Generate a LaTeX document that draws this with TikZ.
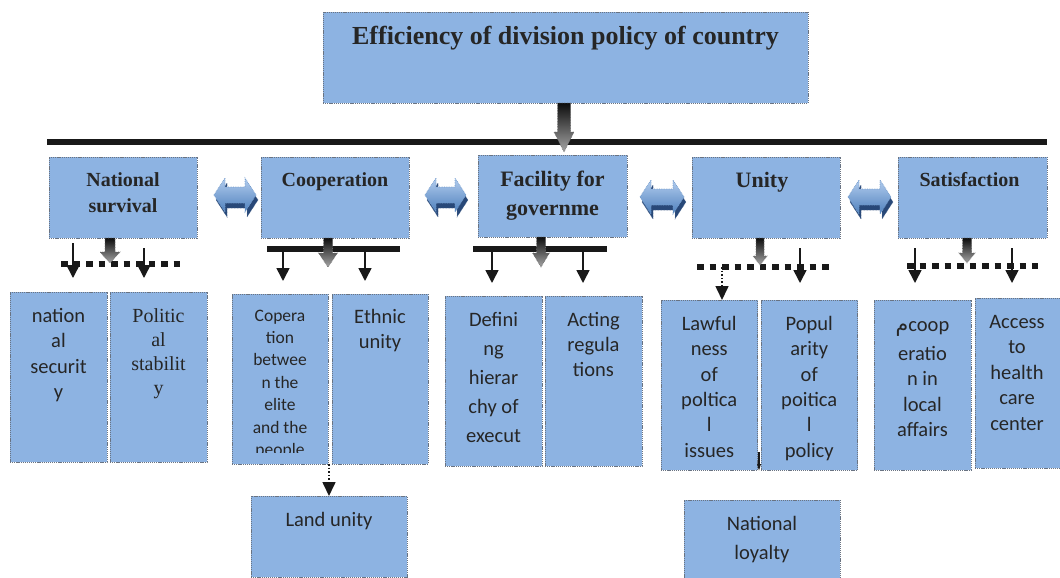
\documentclass[tikz,border=0pt]{standalone}
\usepackage{fontspec}
\setmainfont{Liberation Serif}
\newfontfamily\sansf{Carlito}
\newfontfamily\arabicfont[Script=Arabic]{DejaVu Sans}
\usetikzlibrary{arrows.meta,calc}
\definecolor{boxfill}{RGB}{141,179,226}
\definecolor{boxline}{RGB}{105,115,130}
\definecolor{txt}{RGB}{38,38,38}
\definecolor{arrlight}{RGB}{178,204,238}
\definecolor{arrmid}{RGB}{79,129,189}
\definecolor{arrdark}{RGB}{40,72,120}
\tikzset{
  bx/.style={draw=boxline, fill=boxfill, line width=0.6pt, dash pattern=on 1.2pt off 0.9pt, inner sep=0pt, outer sep=0pt, anchor=north west},
  hd/.style={font=\bfseries\fontsize{20}{26}\selectfont, text=txt, align=center, anchor=base, inner sep=0pt},
  lt/.style={font=\sansf\fontsize{20.5}{25.5}\selectfont, text=txt, align=center, anchor=base, inner sep=0pt},
  bar/.style={line width=6pt, black!90},
  dotbar/.style={line width=5.5pt, black!90, dash pattern=on 6.5pt off 6pt},
  thinarrow/.style={line width=1.6pt, black!90, -{Triangle[width=13pt,length=13pt]}},
  dotarrow/.style={line width=1.6pt, black!90, dotted, -{Triangle[width=13pt,length=14pt]}},
  grayarrow/.style={top color=black!95, bottom color=black!35, draw=black!60, densely dotted, line width=0.6pt},
  bluefront/.style={top color=arrlight, bottom color=arrmid, draw=arrmid!80, densely dotted, line width=0.7pt},
  blueback/.style={fill=arrdark, draw=arrdark!80, densely dotted, line width=0.5pt},
}
% #1 x, #2 top y, #3 head start y, #4 tip y, #5 half shaft, #6 half head
\newcommand\grayarr[6]{\shadedraw[grayarrow] (#1-#5,#2) -- (#1+#5,#2) -- (#1+#5,#3) -- (#1+#6,#3) -- (#1,#4) -- (#1-#6,#3) -- (#1-#5,#3) -- cycle;}
% #1 left x, #2 right x, #3 mid y
\newcommand\dblarr[3]{%
  \filldraw[blueback] (#1+2,#3+5) -- (#1+13,#3-12) -- (#1+13,#3-3) -- (#2-9,#3-3) -- (#2-9,#3-12) -- (#2+2,#3+5) -- (#2-9,#3+22) -- (#2-9,#3+13) -- (#1+13,#3+13) -- (#1+13,#3+22) -- cycle;
  \shadedraw[bluefront] (#1,#3) -- (#1+11,#3-17) -- (#1+11,#3-8) -- (#2-11,#3-8) -- (#2-11,#3-17) -- (#2,#3) -- (#2-11,#3+17) -- (#2-11,#3+8) -- (#1+11,#3+8) -- (#1+11,#3+17) -- cycle;}
\begin{document}
\begin{tikzpicture}[x=1pt,y=-1pt]
\useasboundingbox (0,0) rectangle (1060,578);

% top box
\node[bx, minimum width=485pt, minimum height=91pt] (top) at (323,12) {};
\node[hd, font=\bfseries\fontsize{26}{30}\selectfont] (toptxt) at ([yshift=-33pt]top.north) {Efficiency of division policy of country};

% main bar
\coordinate (mL) at (47,142);
\coordinate (mR) at (1047,142);
\draw[bar] (mL) -- (mR);
\grayarr{564}{103}{132}{152}{6.5}{10}

% level 2 boxes
\node[bx, minimum width=148pt, minimum height=81pt] (ns) at (49,157) {};
\node[bx, minimum width=148pt, minimum height=81pt] (co) at (261,157) {};
\node[bx, minimum width=149pt, minimum height=82pt] (fa) at (478,155) {};
\node[bx, minimum width=148pt, minimum height=81pt] (un) at (692,157) {};
\node[bx, minimum width=149pt, minimum height=81pt] (sa) at (898,157) {};

% (base anchor = baseline of last line)
\node[hd] (nst) at ([yshift=-55pt]ns.north) {National\\survival};
\node[hd] (cot) at ([yshift=-29pt]co.north) {Cooperation};
\node[hd, font=\bfseries\fontsize{22}{29}\selectfont] (fat) at ([yshift=-60pt]fa.north) {Facility for\\governme};
\node[hd, font=\bfseries\fontsize{22}{29}\selectfont] (unt) at ([xshift=-4pt,yshift=-30pt]un.north) {Unity};
\node[hd] (sat) at ([xshift=-3pt,yshift=-29pt]sa.north) {Satisfaction};

% double arrows
\dblarr{214}{256}{195}
\dblarr{425}{466}{195}
\dblarr{640}{684}{197}
\dblarr{848}{891}{197}

% level 3 boxes
\node[bx, minimum width=97pt, minimum height=170pt] (nsec) at (10,292) {};
\node[bx, minimum width=97pt, minimum height=170pt] (pst) at (110,292) {};
\node[bx, minimum width=96pt, minimum height=170pt] (cbe) at (232,294) {};
\node[bx, minimum width=96pt, minimum height=170pt] (eth) at (332,294) {};
\node[bx, minimum width=156pt, minimum height=81pt] (lu) at (251,496) {};
\node[bx, minimum width=97pt, minimum height=170pt] (def) at (445,296) {};
\node[bx, minimum width=97pt, minimum height=170pt] (act) at (545,296) {};
\node[bx, minimum width=96.5pt, minimum height=170pt] (law) at (661,300) {};
\node[bx, minimum width=96.5pt, minimum height=170pt] (pop) at (761,300) {};
\node[bx, minimum width=97pt, minimum height=170pt] (coo) at (874,300) {};
\node[bx, minimum width=90pt, minimum height=170pt] (acc) at (975,298) {};
\node[bx, minimum width=156pt, minimum height=82pt] (nl) at (684,500) {};

% level 3 texts
\node[lt] (nsect) at ([yshift=-106.5pt]nsec.north) {nation\\al\\securit\\y};
\node[lt, font=\fontsize{20}{24}\selectfont] (pstt) at ([yshift=-102pt]pst.north) {Politic\\al\\stabilit\\y};
\begin{scope}
  \clip (cbe.north west) rectangle ([yshift=12pt]cbe.south east);
  \node[lt, font=\sansf\fontsize{17.5}{22.4}\selectfont] (cbet) at ([yshift=-161.4pt]cbe.north) {Copera\\tion\\betwee\\n the\\elite\\and the\\people};
\end{scope}
\node[lt, font=\sansf\fontsize{20.5}{25.7}\selectfont] (etht) at ([yshift=-54.7pt]eth.north) {Ethnic\\unity};
\node[lt] (lut) at ([yshift=-30pt]lu.north) {Land unity};
\node[lt, font=\sansf\fontsize{20.5}{29}\selectfont] (deft) at ([yshift=-146.5pt]def.north) {Defini\\ng\\hierar\\chy of\\execut};
\node[lt, font=\sansf\fontsize{20.5}{25}\selectfont] (actt) at ([yshift=-80.5pt]act.north) {Acting\\regula\\tions};
\node[lt, font=\sansf\fontsize{20.5}{25.3}\selectfont] (lawt) at ([yshift=-157pt]law.north) {Lawful\\ness\\of\\poltica\\l\\issues};
\node[lt, font=\sansf\fontsize{20.5}{25.3}\selectfont] (popt) at ([yshift=-157pt]pop.north) {Popul\\arity\\of\\poitica\\l\\policy};
\node[lt] (coot) at ([yshift=-136.5pt]coo.north) {{\arabicfont م}coop\\[3.5pt]eratio\\n in\\local\\affairs};
\node[lt] (acct) at ([xshift=-3pt,yshift=-132pt]acc.north) {Access\\to\\health\\care\\center};
\node[lt, font=\sansf\fontsize{20.5}{29}\selectfont] (nlt) at ([yshift=-59.5pt]nl.north) {National\\loyalty};

% connectors under National survival
\draw[dotbar] (61,264) -- (184,264);
\draw[thinarrow] (73,243) -- (73,278);
\draw[thinarrow] (144,248) -- (144,278);
\grayarr{110}{238}{252}{263}{5}{10}

% under Cooperation
\draw[bar] (267,249) -- (400,249);
\draw[thinarrow] (283,249) -- (283,281);
\draw[thinarrow] (365,249) -- (365,281);
\grayarr{328}{238}{253}{267}{4.5}{9.5}

% under Facility
\draw[bar] (473,249) -- (607,249);
\draw[thinarrow] (492,249) -- (492,283);
\draw[thinarrow] (583,249) -- (583,283);
\grayarr{541}{237}{253}{267}{4.5}{8.5}

% under Unity
\draw[dotbar] (697,267) -- (833,267);
\draw[thinarrow] (800,248) -- (800,283);
\draw[dotarrow] (722,267) -- (law.north -| 722,0);
\grayarr{760}{238}{256}{265}{4}{7}

% under Satisfaction
\draw[dotbar] (907,266) -- (1038,266);
\draw[thinarrow] (915,248) -- (915,283);
\draw[thinarrow] (1012,248) -- (1012,283);
\grayarr{967}{238}{253}{263}{4.5}{8}

% Land unity connector
\draw[dotarrow] (lu.north |- cbe.south) -- (lu.north);
% small arrow between Lawfulness and Popularity
\draw[line width=1.3pt, black!90, -{Triangle[width=3.5pt,length=7pt]}] (759,452) -- (759,471);
\end{tikzpicture}
\end{document}
